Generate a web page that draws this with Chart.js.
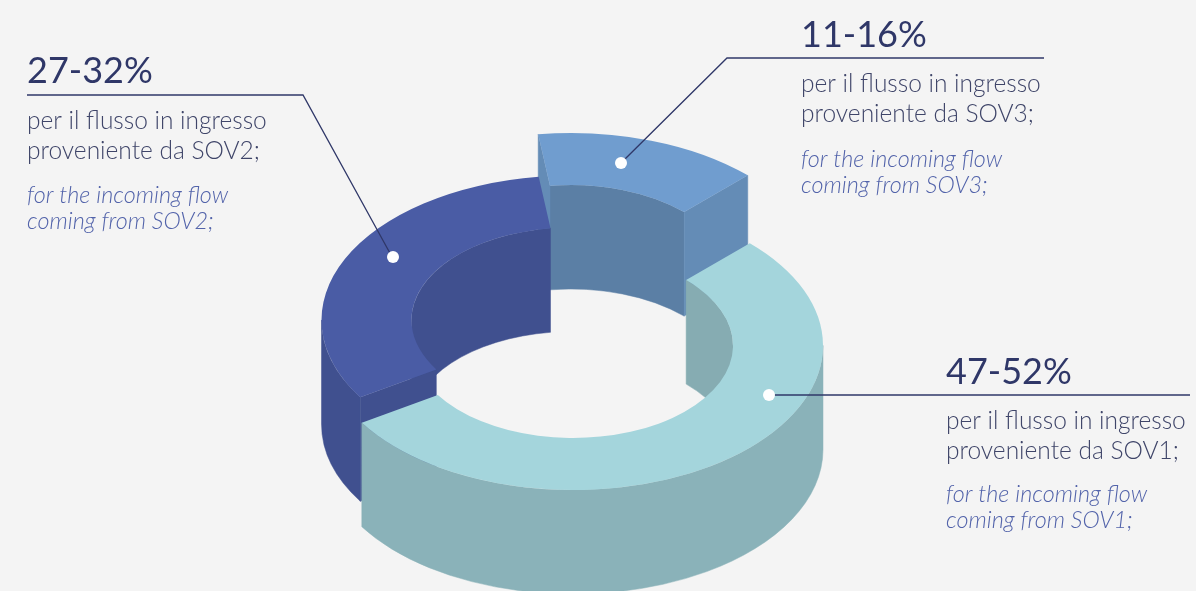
<!DOCTYPE html>
<html>
<head>
<meta charset="utf-8">
<style>
  html, body { margin: 0; padding: 0; background: #f4f4f4; }
  #wrap { width: 1196px; height: 591px; position: relative; overflow: hidden; }
</style>
<script src="https://cdn.jsdelivr.net/npm/chart.js@4/dist/chart.umd.min.js"></script>
</head>
<body>
<div id="wrap"><canvas id="ring" width="1196" height="591"></canvas></div>
<script>
// Share of incoming flow by source: each slice is sized by its range midpoint.
const categories = ['SOV1', 'SOV2', 'SOV3'];
const rangeLow = [47, 27, 11];
const rangeHigh = [52, 32, 16];
const rangeMid = [49.5, 29.5, 13.5];

const topColors = ['#a4d5dc', '#4a5ca5', '#709dcf'];
const outerWallColors = ['#8ab2b9', '#40508f', '#648cb6'];
const innerWallColors = ['#86acb2', '#40508f', '#5b7fa5'];
const endFaceColors = ['#8ab2b9', '#40508f', '#648cb6'];

// Where each slice's centre sits once the ring is pulled apart and tilted.
const sliceCenters = [
  { x: 573, y: 345.5 },
  { x: 571.5, y: 320 },
  { x: 571, y: 277.5 }
];
const paintOrder = [2, 1, 0];
const squash = 0.578;
const depth = 104;

// Callouts: elbowed leader line, white pin and three blocks of text.
const callouts = [
  { line: [[1190, 395], [772, 395]], pin: [769, 395], textX: 946, titleY: 384, bodyY: [429, 459], noteY: [502, 528] },
  { line: [[27, 95], [303, 95], [391, 255]], pin: [393, 257], textX: 27, titleY: 83, bodyY: [129, 159], noteY: [203, 229] },
  { line: [[1044, 58], [727, 58], [623, 161]], pin: [621, 163], textX: 801, titleY: 47, bodyY: [92, 122], noteY: [167, 193] }
];
const bodyLine1 = 'per il flusso in ingresso';
const noteLine1 = 'for the incoming flow';

const TAU = Math.PI * 2;

// Overlap of [a, b] with a repeating window starting at `from` and half a turn long.
function visibleSpans(a, b, from) {
  const spans = [];
  for (let k = -2; k <= 2; k++) {
    const lo = Math.max(a, from + k * TAU);
    const hi = Math.min(b, from + Math.PI + k * TAU);
    if (hi > lo) spans.push([lo, hi]);
  }
  return spans;
}

function wall(ctx, c, r, a, b, color) {
  ctx.beginPath();
  ctx.ellipse(c.x, c.y, r, r * squash, 0, a, b, false);
  ctx.ellipse(c.x, c.y + depth, r, r * squash, 0, b, a, true);
  ctx.closePath();
  ctx.fillStyle = color;
  ctx.strokeStyle = color;
  ctx.lineWidth = 0.5;
  ctx.fill();
  ctx.stroke();
}

function endFace(ctx, c, arc, angle, color) {
  const cos = Math.cos(angle), sin = Math.sin(angle);
  const p = (r, d) => [c.x + r * cos, c.y + r * sin * squash + d];
  ctx.beginPath();
  ctx.moveTo(...p(arc.innerRadius, 0));
  ctx.lineTo(...p(arc.outerRadius, 0));
  ctx.lineTo(...p(arc.outerRadius, depth));
  ctx.lineTo(...p(arc.innerRadius, depth));
  ctx.closePath();
  ctx.fillStyle = color;
  ctx.strokeStyle = color;
  ctx.lineWidth = 0.5;
  ctx.fill();
  ctx.stroke();
}

// Extrudes each arc laid out by the doughnut controller, then lets the arc
// element paint its own top face under a tilt transform.
const extrudedRing = {
  id: 'extrudedRing',
  beforeDatasetDraw(chart, args) {
    const ctx = chart.ctx;
    const arcs = chart.getDatasetMeta(args.index).data;
    paintOrder.forEach(i => {
      const arc = arcs[i];
      const c = sliceCenters[i];
      const a = arc.startAngle, b = arc.endAngle;

      visibleSpans(a, b, Math.PI).forEach(s => wall(ctx, c, arc.innerRadius, s[0], s[1], innerWallColors[i]));
      // A cut face shows only when its normal points towards the viewer.
      if (Math.cos(a) < 0) endFace(ctx, c, arc, a, endFaceColors[i]);
      if (Math.cos(b) > 0) endFace(ctx, c, arc, b, endFaceColors[i]);
      visibleSpans(a, b, 0).forEach(s => wall(ctx, c, arc.outerRadius, s[0], s[1], outerWallColors[i]));

      ctx.save();
      ctx.translate(c.x, c.y);
      ctx.scale(1, squash);
      ctx.translate(-arc.x, -arc.y);
      arc.draw(ctx);
      ctx.restore();
    });
    return false;
  }
};

const calloutLayer = {
  id: 'calloutLayer',
  afterDraw(chart) {
    const ctx = chart.ctx;
    ctx.save();
    ctx.textAlign = 'left';
    ctx.textBaseline = 'alphabetic';
    callouts.forEach((co, i) => {
      ctx.beginPath();
      co.line.forEach((pt, n) => n ? ctx.lineTo(pt[0], pt[1]) : ctx.moveTo(pt[0], pt[1]));
      ctx.strokeStyle = '#2f3768';
      ctx.lineWidth = 1.3;
      ctx.stroke();

      ctx.beginPath();
      ctx.arc(co.pin[0], co.pin[1], 6, 0, TAU);
      ctx.fillStyle = '#ffffff';
      ctx.fill();

      ctx.fillStyle = '#2f3768';
      ctx.font = '400 36px Lato';
      ctx.fillText(rangeLow[i] + '-' + rangeHigh[i] + '%', co.textX, co.titleY);

      ctx.fillStyle = '#3f4569';
      ctx.font = '300 24.5px Lato';
      ctx.fillText(bodyLine1, co.textX, co.bodyY[0]);
      ctx.fillText('proveniente da ' + categories[i] + ';', co.textX, co.bodyY[1]);

      ctx.fillStyle = '#5263aa';
      ctx.font = 'italic 300 23.4px Lato';
      ctx.fillText(noteLine1, co.textX, co.noteY[0]);
      ctx.fillText('coming from ' + categories[i] + ';', co.textX, co.noteY[1]);
    });
    ctx.restore();
  }
};

new Chart(document.getElementById('ring'), {
  type: 'doughnut',
  data: {
    labels: categories,
    datasets: [{
      data: rangeMid,
      backgroundColor: topColors,
      borderWidth: 0
    }]
  },
  options: {
    responsive: false,
    animation: false,
    rotation: 45,
    radius: 250,
    cutout: '64%',
    plugins: { legend: { display: false }, tooltip: { enabled: false } }
  },
  plugins: [extrudedRing, calloutLayer]
});
</script>
</body>
</html>
